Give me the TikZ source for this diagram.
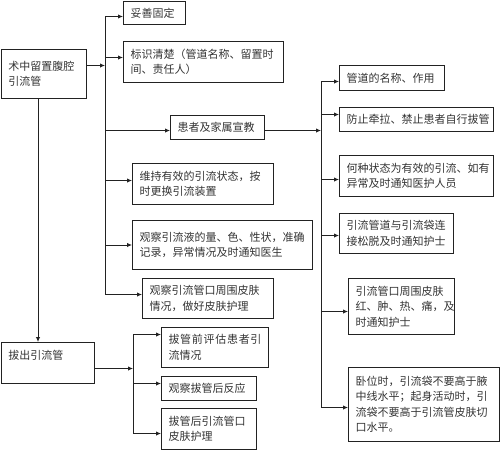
\documentclass[tikz,border=0pt]{standalone}
\usepackage{fontspec}
\setmainfont{Noto Sans CJK SC}
\usetikzlibrary{arrows.meta}
\definecolor{lncol}{HTML}{222222}
\definecolor{txtcol}{HTML}{333333}
\tikzset{
  bx/.style={draw=lncol, line width=1pt, anchor=north west, inner xsep=7pt, inner ysep=0pt,
             align=left, font=\fontsize{11}{15.5}\selectfont, text=txtcol},
  arr/.style={draw=lncol, line width=0.9pt, -{Latex[length=5pt,width=4.5pt]}},
  trunk/.style={draw=lncol, line width=0.9pt}
}
\begin{document}
\begin{tikzpicture}[x=1pt,y=-1pt]
\useasboundingbox (0,0) rectangle (500,450);
% left column
\node[bx, text width=71pt, minimum height=49pt] (A) at (1,49) {术中留置腹腔\\引流管};
\node[bx, text width=79pt, minimum height=41pt] (N) at (1,342) {拔出引流管\\~};
% first level
\node[bx, text width=48pt, minimum height=23pt] (B) at (123,1) {妥善固定};
\node[bx, text width=146pt, minimum height=41pt] (C) at (123,41) {标识清楚（管道名称、留置时\\间、责任人）};
\node[bx, text width=80pt, minimum height=24pt] (D) at (170,115) {患者及家属宣教};
\node[bx, text width=127pt, minimum height=41pt] (E) at (132,163) {维持有效的引流状态，按\\时更换引流装置};
\node[bx, text width=166pt, minimum height=49pt] (F) at (132,220) {观察引流液的量、色、性状，准确\\记录，异常情况及时通知医生};
\node[bx, text width=117pt, minimum height=40pt] (G) at (142,278) {观察引流管口周围皮肤\\情况，做好皮肤护理};
% right column
\node[bx, text width=91pt, minimum height=25pt] (H) at (339,65) {管道的名称、作用};
\node[bx, text width=140pt, minimum height=24pt] (I) at (339,107) {防止牵拉、禁止患者自行拔管};
\node[bx, text width=140pt, minimum height=41pt] (J) at (339,155) {何种状态为有效的引流、如有\\异常及时通知医护人员};
\node[bx, text width=100pt, minimum height=40pt] (K) at (339,213) {引流管道与引流袋连\\接松脱及时通知护士};
\node[bx, text width=92pt, minimum height=56pt] (L) at (348,278) {引流管口周围皮肤\\红、肿、热、痛，及\\时通知护士};
\node[bx, text width=137pt, minimum height=74pt] (M) at (348,367) {卧位时，引流袋不要高于腋\\中线水平；起身活动时，引\\流袋不要高于引流管皮肤切\\口水平。};
% bottom group
\node[bx, text width=93pt, minimum height=40pt] (O) at (161,327) {\makebox[93pt][s]{拔\hfill 管\hfill 前\hfill 评\hfill 估\hfill 患\hfill 者\hfill 引}\\流情况};
\node[bx, text width=81pt, minimum height=24pt] (P) at (161,376) {观察拔管后反应};
\node[bx, text width=81pt, minimum height=41pt] (Q) at (161,408) {拔管后引流管口\\皮肤护理};

% trunk coordinates
\coordinate (T1) at (105,16);
\coordinate (T1b) at (105,294);
\coordinate (T2) at (321,81);
\coordinate (T2b) at (321,407);
\coordinate (T3) at (133,334);
\coordinate (T3b) at (133,433);

% arrow attachment points
\coordinate (aA) at ([yshift=8.5pt]A.east);
\coordinate (aB) at ([yshift=-3.5pt]B.west);
\coordinate (aC) at ([yshift=4.5pt]C.west);
\coordinate (aD) at ([yshift=-3pt]D.west);
\coordinate (eD) at ([yshift=-3pt]D.east);
\coordinate (aE) at ([yshift=3.5pt]E.west);
\coordinate (aF) at (F.west);
\coordinate (aG) at ([yshift=4pt]G.west);
\coordinate (aH) at ([yshift=-3.5pt]H.west);
\coordinate (aI) at ([yshift=5pt]I.west);
\coordinate (aJ) at ([yshift=-3.5pt]J.west);
\coordinate (aK) at ([yshift=-2pt]K.west);
\coordinate (aL) at ([yshift=-5pt]L.west);
\coordinate (aM) at ([yshift=-3pt]M.west);
\coordinate (vA) at ([xshift=37pt]A.south west);
\coordinate (aN) at ([yshift=-5.5pt]N.east);
\coordinate (aO) at ([yshift=13pt]O.west);
\coordinate (aP) at ([yshift=5pt]P.west);
\coordinate (aQ) at ([yshift=-4.5pt]Q.west);

% left trunk
\draw[arr] (aA) -- (aA -| T1);
\draw[trunk] (T1) -- (T1b);
\foreach \p in {aB,aC,aD,aE,aF,aG} \draw[arr] (\p -| T1) -- (\p);
% right trunk
\draw[arr] (eD) -- (eD -| T2);
\draw[trunk] (T2) -- (T2b);
\foreach \p in {aH,aI,aJ,aK,aL,aM} \draw[arr] (\p -| T2) -- (\p);
% down to N
\draw[arr] (vA) -- (vA |- N.north);
% bottom trunk
\draw[arr] (aN) -- (aN -| T3);
\draw[trunk] (T3) -- (T3b);
\foreach \p in {aO,aP,aQ} \draw[arr] (\p -| T3) -- (\p);
\end{tikzpicture}
\end{document}
